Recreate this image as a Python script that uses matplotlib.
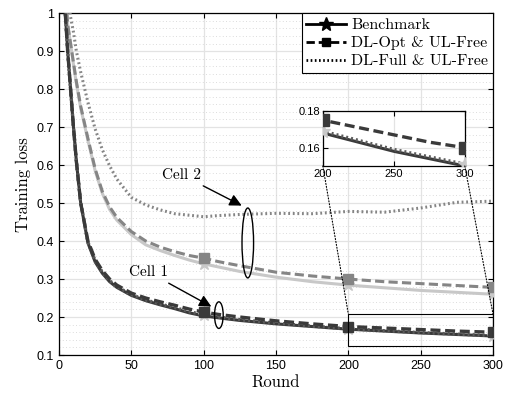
import numpy as np
import matplotlib
matplotlib.use('Agg')
import matplotlib.pyplot as plt
from matplotlib.patches import Rectangle, Ellipse, ConnectionPatch

plt.rcParams['font.family'] = 'Liberation Sans'
SERIF = 'cmr10'

rounds = [2, 4, 6, 8, 10, 12, 15, 20, 25, 30, 35, 40, 50, 60, 70, 80, 90,
          100, 110, 125, 150, 175, 200, 225, 250, 275, 300]

# Cell 1
c1_bench = [1.3, 1.02, 0.9, 0.8, 0.7, 0.61, 0.5, 0.395, 0.345, 0.315, 0.293, 0.278,
            0.257, 0.243, 0.232, 0.222, 0.211, 0.203, 0.198, 0.191, 0.182, 0.175,
            0.168, 0.163, 0.158, 0.154, 0.150]
c1_opt = [1.3, 1.02, 0.9, 0.8, 0.7, 0.61, 0.5, 0.40, 0.352, 0.322, 0.30, 0.284,
          0.263, 0.25, 0.24, 0.231, 0.221, 0.213, 0.207, 0.20, 0.19, 0.182,
          0.175, 0.171, 0.167, 0.163, 0.16]
c1_full = [1.3, 1.02, 0.9, 0.8, 0.7, 0.61, 0.5, 0.397, 0.348, 0.318, 0.296, 0.28,
           0.259, 0.245, 0.234, 0.225, 0.214, 0.206, 0.20, 0.193, 0.184, 0.176,
           0.169, 0.164, 0.159, 0.155, 0.151]

# Cell 2
c2_bench = [1.5, 1.08, 0.97, 0.92, 0.865, 0.815, 0.75, 0.665, 0.585, 0.525, 0.483, 0.455,
            0.417, 0.39, 0.375, 0.362, 0.35, 0.34, 0.332, 0.32, 0.305, 0.293,
            0.284, 0.277, 0.27, 0.265, 0.26]
c2_opt = [1.5, 1.08, 0.97, 0.92, 0.87, 0.82, 0.755, 0.67, 0.59, 0.53, 0.49, 0.462,
          0.425, 0.40, 0.384, 0.372, 0.362, 0.355, 0.346, 0.335, 0.318, 0.308,
          0.30, 0.293, 0.288, 0.283, 0.278]
c2_full = [1.6, 1.15, 1.05, 0.99, 0.95, 0.90, 0.845, 0.765, 0.695, 0.64, 0.598, 0.563,
           0.515, 0.495, 0.482, 0.472, 0.468, 0.464, 0.467, 0.47, 0.473, 0.472,
           0.478, 0.476, 0.487, 0.502, 0.505]

legend_labels = ['Benchmark', 'DL-Opt & UL-Free', 'DL-Full & UL-Free']

x = np.array(rounds)
mk = [i for i, r in enumerate(rounds) if r in (100, 200, 300)]

DARK = '#3a3a3a'
MID = '#858585'
LIGHT = '#c8c8c8'
DASH = (0, (3, 1.4))
DOT = (0, (0.6, 0.9))


def draw_curves(ax, star_ms=9, sq_ms=7):
    # cell 2
    ax.plot(x, c2_bench, '-', color=LIGHT, lw=2.2, marker='*', ms=star_ms,
            markevery=mk, mfc=LIGHT, mec=LIGHT, zorder=3)
    ax.plot(x, c2_opt, ls=DASH, color=MID, lw=2.2, marker='s', ms=sq_ms,
            markevery=mk, mfc=MID, mec=MID, zorder=4)
    ax.plot(x, c2_full, ls=DOT, color=MID, lw=2.2, zorder=3)
    # cell 1
    ax.plot(x, c1_bench, '-', color=DARK, lw=2.2, zorder=3)
    ax.plot(x, c1_opt, ls=DASH, color=DARK, lw=2.4, marker='s', ms=sq_ms,
            markevery=mk, mfc=DARK, mec=DARK, zorder=5)
    ax.plot(x, c1_full, ls=DOT, color='#5a5a5a', lw=2.4, marker='*', ms=star_ms,
            markevery=mk, mfc=LIGHT, mec=LIGHT, zorder=4)


fig = plt.figure(figsize=(5.06, 3.98), dpi=100)
ax = fig.add_axes([0.1166, 0.108, 0.8577, 0.859])

draw_curves(ax)

ax.set_xlim(0, 300)
ax.set_ylim(0.1, 1)
ax.set_xticks([0, 50, 100, 150, 200, 250, 300])
ax.set_yticks(np.arange(0.1, 1.01, 0.1))
ax.set_yticklabels(['0.1', '0.2', '0.3', '0.4', '0.5', '0.6', '0.7', '0.8', '0.9', '1'])
ax.set_yticks(np.arange(0.1, 1.0, 0.02), minor=True)
ax.tick_params(which='both', direction='in', top=True, right=True, labelsize=9)
ax.tick_params(which='minor', length=0)
ax.grid(which='major', color='#e3e3e3', lw=0.9)
ax.grid(which='minor', axis='y', color='#d0d0d0', lw=0.6, ls=(0, (1, 3)))
ax.set_axisbelow(True)
for s in ax.spines.values():
    s.set_linewidth(0.9)

ax.set_xlabel('Round', family=SERIF, fontsize=12, labelpad=2)
ax.set_ylabel('Training loss', family=SERIF, fontsize=12, labelpad=4)

# legend with black proxies
h1, = ax.plot([], [], '-', color='k', lw=2, marker='*', ms=10)
h2, = ax.plot([], [], ls=DASH, color='k', lw=2, marker='s', ms=6)
h3, = ax.plot([], [], ls=DOT, color='k', lw=2)
leg = ax.legend([h1, h2, h3], legend_labels, loc='upper right', fancybox=False,
                framealpha=1, edgecolor='k', borderaxespad=0, handlelength=2.5,
                handletextpad=0.3, borderpad=0.3, labelspacing=0.25,
                prop={'family': SERIF, 'size': 11.5})
leg.get_frame().set_linewidth(0.8)

# annotations
ax.add_patch(Ellipse((130.5, 0.395), 8, 0.184, fill=False, ec='k', lw=1, zorder=6))
ax.add_patch(Ellipse((110.5, 0.205), 6, 0.07, fill=False, ec='k', lw=1, zorder=6))
arrow = dict(arrowstyle='-|>', mutation_scale=18, lw=1, color='k')
ax.annotate('Cell 2', xy=(128, 0.49), xytext=(85, 0.574), ha='center', va='center',
            family=SERIF, fontsize=11, arrowprops=arrow, zorder=6)
ax.annotate('Cell 1', xy=(107, 0.224), xytext=(62, 0.318), ha='center', va='center',
            family=SERIF, fontsize=11, arrowprops=arrow, zorder=6)

# zoom box
ax.add_patch(Rectangle((200, 0.125), 100, 0.083, fill=False, ec='k', lw=0.8, zorder=6))

# inset
axi = fig.add_axes([0.638, 0.583, 0.2806, 0.138])
draw_curves(axi, star_ms=10, sq_ms=8)
axi.set_xlim(200, 300)
axi.set_ylim(0.15, 0.18)
axi.set_xticks([200, 250, 300])
axi.set_yticks([0.16, 0.18])
axi.set_yticklabels(['0.16', '0.18'])
axi.tick_params(direction='in', top=True, right=True, labelsize=8, pad=2)
axi.grid(color='#e3e3e3', lw=0.9)
axi.set_axisbelow(True)
for s in axi.spines.values():
    s.set_linewidth(0.9)

for xa, xd in ((0, 200), (1, 300)):
    con = ConnectionPatch(xyA=(xa, 0), coordsA=axi.transAxes,
                          xyB=(xd, 0.208), coordsB=ax.transData,
                          ls=':', lw=0.8, color='k')
    fig.add_artist(con)

fig.savefig('out.png', dpi=100)
